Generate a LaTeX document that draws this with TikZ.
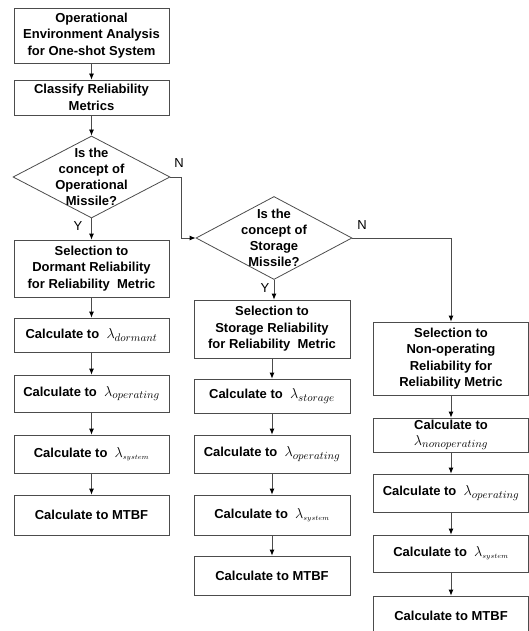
\documentclass[tikz,border=0pt]{standalone}
\usepackage{fontspec}
\setmainfont{Liberation Sans}
\usetikzlibrary{shapes.geometric,arrows.meta}
\definecolor{linecol}{gray}{0.3}
\newcommand{\lam}[1]{{\fontsize{15}{16}\selectfont$\lambda_{#1}$}}
\newcommand{\lams}[1]{{\fontsize{15}{16}\selectfont$\lambda_{\scriptscriptstyle #1}$}}
\begin{document}
\begin{tikzpicture}[x=1pt,y=-1pt,
  box/.style={draw=linecol, line width=0.8pt, minimum width=155pt, align=center,
    font=\bfseries\fontsize{13}{16.5}\selectfont, inner sep=0pt},
  dia/.style={draw=linecol, line width=0.8pt, diamond, inner sep=0pt},
  diatext/.style={align=center, font=\bfseries\fontsize{13}{16}\selectfont, inner sep=0pt},
  lbl/.style={font=\fontsize{13}{16}\selectfont, inner sep=0pt},
  arr/.style={draw=linecol, line width=0.8pt, -{Latex[length=6pt,width=5pt,color=black]}}]
\useasboundingbox (0,0) rectangle (529,631);

% column 1
\node[box, minimum height=55pt] (b1) at (91.5,35.5) {Operational\\Environment Analysis\\for One-shot System};
\node[box, minimum height=35pt] (b2) at (91.5,97.5) {Classify Reliability\\Metrics};
\node[dia, minimum width=157pt, minimum height=82pt] (d1) at (91.5,177) {};
\node[diatext] (d1t) at (91.5,177) {Is the\\concept of\\Operational\\Missile?};
\node[box, minimum height=57pt] (s1) at (91.5,268.5) {Selection to\\Dormant Reliability\\for Reliability\ \ Metric};
\node[box, minimum height=34pt] (c1a) at (91.5,335) {Calculate to\ \ \lam{dormant}};
\node[box, minimum height=37pt] (c1b) at (91.5,393.5) {Calculate to\ \ \lam{operating}};
\node[box, minimum height=38pt] (c1c) at (91.5,454) {Calculate to\ \ \lams{system}};
\node[box, minimum height=40pt] (c1d) at (91.5,515) {Calculate to MTBF};

% column 2
\node[dia, minimum width=156pt, minimum height=83pt] (d2) at (274,238) {};
\node[diatext] (d2t) at (274,238) {Is the\\concept of\\Storage\\Missile?};
\node[box, minimum height=58pt, minimum width=156pt] (s2) at (272,329) {Selection to\\Storage Reliability\\for Reliability\ \ Metric};
\node[box, minimum height=34pt, minimum width=156pt] (c2a) at (272,396) {Calculate to\ \ \lam{storage}};
\node[box, minimum height=38pt, minimum width=156pt] (c2b) at (272,454) {Calculate to\ \ \lam{operating}};
\node[box, minimum height=40pt, minimum width=156pt] (c2c) at (272,515) {Calculate to\ \ \lams{system}};
\node[box, minimum height=39pt, minimum width=156pt] (c2d) at (272,575.5) {Calculate to MTBF};

% column 3
\node[box, minimum height=73pt] (s3) at (451,358.5) {Selection to\\Non-operating\\Reliability for\\Reliability Metric};
\node[box, minimum height=34pt] (c3a) at (451,435) {Calculate to\\[-1pt]\lam{nonoperating}};
\node[box, minimum height=38pt] (c3b) at (451,493) {Calculate to\ \ \lam{operating}};
\node[box, minimum height=37pt] (c3c) at (451,553.5) {Calculate to\ \ \lams{system}};
\node[box, minimum height=40pt] (c3d) at (451,616) {Calculate to MTBF};

% labels
\node[lbl] (y1) at (78,226) {Y};
\node[lbl] (n1) at (179,163) {N};
\node[lbl] (y2) at (265,288) {Y};
\node[lbl] (n2) at (362,225) {N};

% connectors
\draw[arr] (b1) -- (b2);
\draw[arr] (b2) -- (d1);
\draw[arr] (d1) -- (s1);
\draw[arr] (s1) -- (c1a);
\draw[arr] (c1a) -- (c1b);
\draw[arr] (c1b) -- (c1c);
\draw[arr] (c1c) -- (c1d);
\draw[arr] (d1.east) -- ++(11,0) |- (d2.west);
\draw[arr] (d2.south) -- (d2.south |- s2.north);
\draw[arr] (s2) -- (c2a);
\draw[arr] (c2a) -- (c2b);
\draw[arr] (c2b) -- (c2c);
\draw[arr] (c2c) -- (c2d);
\draw[arr] (d2.east) -| (s3.north);
\draw[arr] (s3) -- (c3a);
\draw[arr] (c3a) -- (c3b);
\draw[arr] (c3b) -- (c3c);
\draw[arr] (c3c) -- (c3d);
\end{tikzpicture}
\end{document}
